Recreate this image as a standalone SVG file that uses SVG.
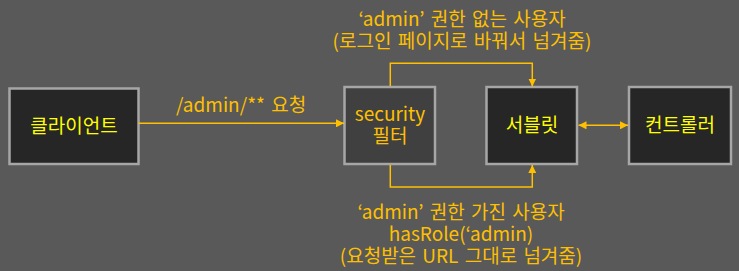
<svg xmlns="http://www.w3.org/2000/svg" width="739" height="271" viewBox="0 0 739 271">
<style>
.box{fill:#262626;stroke:#A6A6A6;stroke-width:2.5}
.filter{fill:#404040;stroke:#A6A6A6;stroke-width:2.5}
.nt{font-family:"Malgun Gothic","Noto Sans CJK KR",sans-serif;font-size:19px;fill:#FFFF00;text-anchor:middle}
.ot{font-family:"Malgun Gothic","Noto Sans CJK KR",sans-serif;font-size:19px;fill:#FFC000;text-anchor:middle;word-spacing:2px}
.ln{fill:none;stroke:#FFC000;stroke-width:1.5}
</style>
<defs>
<marker id="ah" viewBox="0 0 10 10" refX="10" refY="5" markerWidth="8" markerHeight="8" markerUnits="userSpaceOnUse" orient="auto-start-reverse">
<path d="M0,0 L10,5 L0,10 z" fill="#FFC000"/>
</marker>
</defs>
<rect width="739" height="271" fill="#595959"/>
<g id="client">
<rect class="box" x="9.5" y="88.5" width="129" height="75.5"/>
<text class="nt" x="74" y="133">클라이언트</text>
</g>
<g id="security-filter">
<rect class="filter" x="344.5" y="87" width="90.5" height="77"/>
<text class="ot" x="390" y="121">security</text>
<text class="ot" x="390" y="143">필터</text>
</g>
<g id="servlet">
<rect class="box" x="486.5" y="87" width="90.5" height="77"/>
<text class="nt" x="532" y="132">서블릿</text>
</g>
<g id="controller">
<rect class="box" x="629" y="87" width="102" height="77"/>
<text class="nt" x="680" y="132">컨트롤러</text>
</g>
<g id="connectors">
<path class="ln" d="M138.5,123.3 H344" marker-end="url(#ah)"/>
<path class="ln" d="M390.3,86 V63.3 H532.3 V86.5" marker-end="url(#ah)"/>
<path class="ln" d="M390.3,165 V187 H532.3 V165" marker-end="url(#ah)"/>
<path class="ln" d="M578.5,125.3 H628" marker-start="url(#ah)" marker-end="url(#ah)"/>
</g>
<g id="labels">
<text class="ot" x="241" y="112">/admin/** 요청</text>
<text class="ot" x="462" y="26">‘admin’ 권한 없는 사용자</text>
<text class="ot" x="462" y="48">(로그인 페이지로 바꿔서 넘겨줌)</text>
<text class="ot" x="461" y="219">‘admin’ 권한 가진 사용자</text>
<text class="ot" x="461" y="241">hasRole(‘admin)</text>
<text class="ot" x="461" y="263">(요청받은 URL 그대로 넘겨줌)</text>
</g>
</svg>
